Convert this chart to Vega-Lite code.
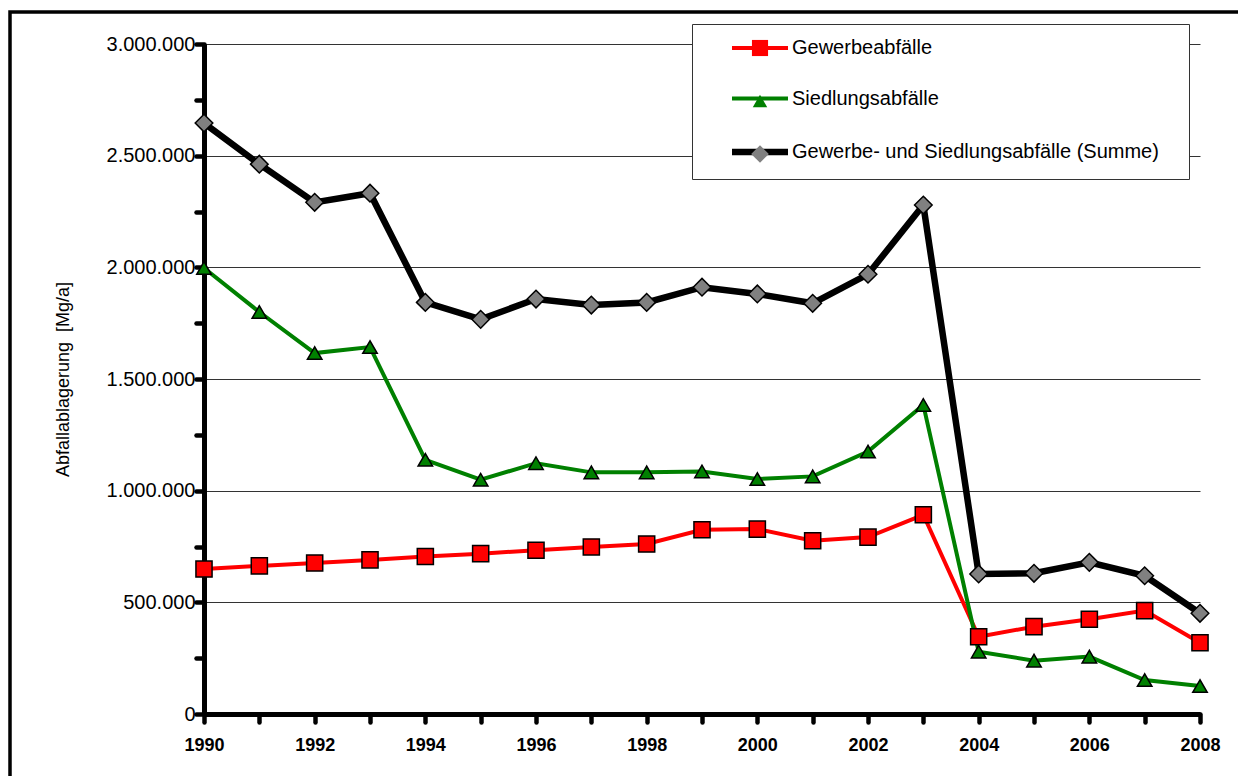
{
  "$schema": "https://vega.github.io/schema/vega-lite/v6.json",
  "width": 1250,
  "height": 790,
  "autosize": {"type": "none"},
  "padding": {"left": 10, "top": 12, "right": -22, "bottom": -26},
  "background": "white",
  "config": {
    "font": "Liberation Sans",
    "view": {"stroke": "black", "strokeWidth": 3.5, "fill": "white"}
  },
  "data": {
    "values": [
      {"Jahr": 1990, "Gewerbeabfälle": 649000, "Siedlungsabfälle": 1997000, "Gewerbe- und Siedlungsabfälle (Summe)": 2646000},
      {"Jahr": 1991, "Gewerbeabfälle": 663000, "Siedlungsabfälle": 1800000, "Gewerbe- und Siedlungsabfälle (Summe)": 2462000},
      {"Jahr": 1992, "Gewerbeabfälle": 676000, "Siedlungsabfälle": 1616000, "Gewerbe- und Siedlungsabfälle (Summe)": 2291000},
      {"Jahr": 1993, "Gewerbeabfälle": 690000, "Siedlungsabfälle": 1643000, "Gewerbe- und Siedlungsabfälle (Summe)": 2332000},
      {"Jahr": 1994, "Gewerbeabfälle": 705000, "Siedlungsabfälle": 1138000, "Gewerbe- und Siedlungsabfälle (Summe)": 1843000},
      {"Jahr": 1995, "Gewerbeabfälle": 718000, "Siedlungsabfälle": 1049000, "Gewerbe- und Siedlungsabfälle (Summe)": 1767000},
      {"Jahr": 1996, "Gewerbeabfälle": 733000, "Siedlungsabfälle": 1123000, "Gewerbe- und Siedlungsabfälle (Summe)": 1858000},
      {"Jahr": 1997, "Gewerbeabfälle": 748000, "Siedlungsabfälle": 1082000, "Gewerbe- und Siedlungsabfälle (Summe)": 1831000},
      {"Jahr": 1998, "Gewerbeabfälle": 761000, "Siedlungsabfälle": 1082000, "Gewerbe- und Siedlungsabfälle (Summe)": 1843000},
      {"Jahr": 1999, "Gewerbeabfälle": 825000, "Siedlungsabfälle": 1086000, "Gewerbe- und Siedlungsabfälle (Summe)": 1911000},
      {"Jahr": 2000, "Gewerbeabfälle": 828000, "Siedlungsabfälle": 1052000, "Gewerbe- und Siedlungsabfälle (Summe)": 1881000},
      {"Jahr": 2001, "Gewerbeabfälle": 776000, "Siedlungsabfälle": 1064000, "Gewerbe- und Siedlungsabfälle (Summe)": 1839000},
      {"Jahr": 2002, "Gewerbeabfälle": 792000, "Siedlungsabfälle": 1175000, "Gewerbe- und Siedlungsabfälle (Summe)": 1969000},
      {"Jahr": 2003, "Gewerbeabfälle": 892000, "Siedlungsabfälle": 1384000, "Gewerbe- und Siedlungsabfälle (Summe)": 2279000},
      {"Jahr": 2004, "Gewerbeabfälle": 346000, "Siedlungsabfälle": 279000, "Gewerbe- und Siedlungsabfälle (Summe)": 627000},
      {"Jahr": 2005, "Gewerbeabfälle": 391000, "Siedlungsabfälle": 239000, "Gewerbe- und Siedlungsabfälle (Summe)": 630000},
      {"Jahr": 2006, "Gewerbeabfälle": 424000, "Siedlungsabfälle": 257000, "Gewerbe- und Siedlungsabfälle (Summe)": 679000},
      {"Jahr": 2007, "Gewerbeabfälle": 463000, "Siedlungsabfälle": 152000, "Gewerbe- und Siedlungsabfälle (Summe)": 619000},
      {"Jahr": 2008, "Gewerbeabfälle": 319000, "Siedlungsabfälle": 125000, "Gewerbe- und Siedlungsabfälle (Summe)": 451000}
    ]
  },
  "encoding": {
    "x": {
      "field": "Jahr",
      "type": "quantitative",
      "scale": {"domain": [1990, 2008], "range": [194, 1190], "nice": false, "zero": false},
      "axis": {
        "orient": "bottom",
        "offset": -88,
        "title": null,
        "values": [1990, 1991, 1992, 1993, 1994, 1995, 1996, 1997, 1998, 1999, 2000, 2001, 2002, 2003, 2004, 2005, 2006, 2007, 2008],
        "labelExpr": "datum.value % 2 == 0 ? format(datum.value, 'd') : ''",
        "labelOverlap": false,
        "labelFlush": false,
        "labelFont": "Liberation Sans",
        "labelFontSize": 18,
        "labelFontWeight": "bold",
        "labelColor": "black",
        "labelPadding": 14,
        "domainColor": "black",
        "domainWidth": 5,
        "tickColor": "black",
        "tickWidth": 4.5,
        "tickSize": 8,
        "tickCap": "round",
        "grid": false
      }
    },
    "y": {
      "field": "Wert",
      "type": "quantitative",
      "scale": {"domain": [0, 3000000], "range": [702, 32], "nice": false},
      "axis": {
        "orient": "left",
        "offset": -194,
        "title": "Abfallablagerung \u00a0[Mg/a]",
        "titleFont": "Liberation Sans",
        "titleFontSize": 18,
        "titleFontWeight": "normal",
        "titleColor": "black",
        "titlePadding": 34,
        "values": [0, 250000, 500000, 750000, 1000000, 1250000, 1500000, 1750000, 2000000, 2250000, 2500000, 2750000, 3000000],
        "labelExpr": "datum.value % 500000 == 0 ? replace(replace(format(datum.value, ','), ',', '.'), ',', '.') : ''",
        "labelOverlap": false,
        "labelFont": "Liberation Sans",
        "labelFontSize": 20,
        "labelColor": "black",
        "labelPadding": 1,
        "domainColor": "black",
        "domainWidth": 5,
        "tickColor": "black",
        "tickWidth": 4.5,
        "tickSize": 8,
        "tickCap": "round",
        "grid": true,
        "gridColor": "#333333",
        "gridWidth": 1,
        "gridOpacity": {"condition": {"test": "datum.value % 500000 == 0", "value": 1}, "value": 0}
      }
    }
  },
  "layer": [
    {
      "transform": [
        {"filter": "datum.Jahr % 2 == 0 && datum.Jahr > 1990"}
      ],
      "mark": {"type": "rule", "color": "#333333", "strokeWidth": 1},
      "encoding": {
        "y": {"datum": 0, "type": "quantitative"},
        "y2": {"datum": 3000000}
      }
    },
    {
      "transform": [
        {"fold": ["Gewerbeabfälle", "Siedlungsabfälle", "Gewerbe- und Siedlungsabfälle (Summe)"], "as": ["Reihe", "Wert"]},
        {"filter": "datum.Reihe != 'Gewerbe- und Siedlungsabfälle (Summe)'"}
      ],
      "mark": {"type": "line", "strokeWidth": 4},
      "encoding": {
        "color": {
          "field": "Reihe",
          "type": "nominal",
          "scale": {"domain": ["Gewerbeabfälle", "Siedlungsabfälle", "Gewerbe- und Siedlungsabfälle (Summe)"], "range": ["#ff0000", "#008000", "#000000"]},
          "legend": {
            "orient": "none",
            "legendX": 682,
            "legendY": 12,
            "zindex": 1,
            "title": "\u00a0",
            "titleOrient": "right",
            "titleFontSize": 2,
            "titlePadding": 16,
            "padding": 14,
            "strokeColor": "#333333",
            "fillColor": "white",
            "symbolType": "stroke",
            "symbolSize": 3136,
            "symbolOffset": 44,
            "labelOffset": 22,
            "rowPadding": 30.5,
            "labelFont": "Liberation Sans",
            "labelFontSize": 20,
            "labelColor": "black",
            "labelLimit": 600,
            "encode": {
              "symbols": {
                "update": {
                  "strokeWidth": {"signal": "datum.value == 'Gewerbe- und Siedlungsabfälle (Summe)' ? 6.5 : 4"}
                }
              }
            }
          }
        }
      }
    },
    {
      "transform": [
        {"fold": ["Gewerbeabfälle", "Siedlungsabfälle", "Gewerbe- und Siedlungsabfälle (Summe)"], "as": ["Reihe", "Wert"]},
        {"filter": "datum.Reihe == 'Gewerbe- und Siedlungsabfälle (Summe)'"}
      ],
      "mark": {"type": "line", "strokeWidth": 6.5},
      "encoding": {
        "color": {
          "field": "Reihe",
          "type": "nominal",
          "scale": {"domain": ["Gewerbeabfälle", "Siedlungsabfälle", "Gewerbe- und Siedlungsabfälle (Summe)"], "range": ["#ff0000", "#008000", "#000000"]}
        }
      }
    },
    {
      "transform": [
        {"fold": ["Gewerbeabfälle", "Siedlungsabfälle", "Gewerbe- und Siedlungsabfälle (Summe)"], "as": ["Marker", "Wert"]}
      ],
      "mark": {"type": "point", "filled": true, "stroke": "black", "strokeWidth": 1.5, "opacity": 1},
      "encoding": {
        "fill": {
          "field": "Marker",
          "type": "nominal",
          "scale": {"range": ["#808080", "#ff0000", "#008000"]},
          "legend": {
            "orient": "none",
            "legendX": 726,
            "legendY": 12,
            "zindex": 2,
            "title": null,
            "padding": 14,
            "values": ["Gewerbeabfälle", "Siedlungsabfälle", "Gewerbe- und Siedlungsabfälle (Summe)"],
            "symbolStrokeColor": "black",
            "symbolStrokeWidth": 1.5,
            "symbolOpacity": 1,
            "rowPadding": 31,
            "labelFont": "Liberation Sans",
            "labelFontSize": 20,
            "labelOpacity": 0,
            "labelExpr": "''",
            "labelLimit": 600
          }
        },
        "size": {
          "field": "Marker",
          "type": "nominal",
          "scale": {"range": [310, 210, 190]},
          "legend": {
            "orient": "none",
            "legendX": 726,
            "legendY": 12,
            "zindex": 2,
            "title": null,
            "padding": 14,
            "values": ["Gewerbeabfälle", "Siedlungsabfälle", "Gewerbe- und Siedlungsabfälle (Summe)"],
            "symbolStrokeColor": "black",
            "symbolStrokeWidth": 1.5,
            "symbolOpacity": 1,
            "rowPadding": 31,
            "labelFont": "Liberation Sans",
            "labelFontSize": 20,
            "labelOpacity": 0,
            "labelExpr": "''",
            "labelLimit": 600
          }
        },
        "shape": {
          "field": "Marker",
          "type": "nominal",
          "scale": {"range": ["diamond", "square", "triangle-up"]},
          "legend": {
            "orient": "none",
            "legendX": 726,
            "legendY": 12,
            "zindex": 2,
            "title": null,
            "padding": 14,
            "values": ["Gewerbeabfälle", "Siedlungsabfälle", "Gewerbe- und Siedlungsabfälle (Summe)"],
            "symbolStrokeColor": "black",
            "symbolStrokeWidth": 1.5,
            "symbolOpacity": 1,
            "rowPadding": 31,
            "labelFont": "Liberation Sans",
            "labelFontSize": 20,
            "labelOpacity": 0,
            "labelExpr": "''",
            "labelLimit": 600
          }
        }
      }
    }
  ]
}
